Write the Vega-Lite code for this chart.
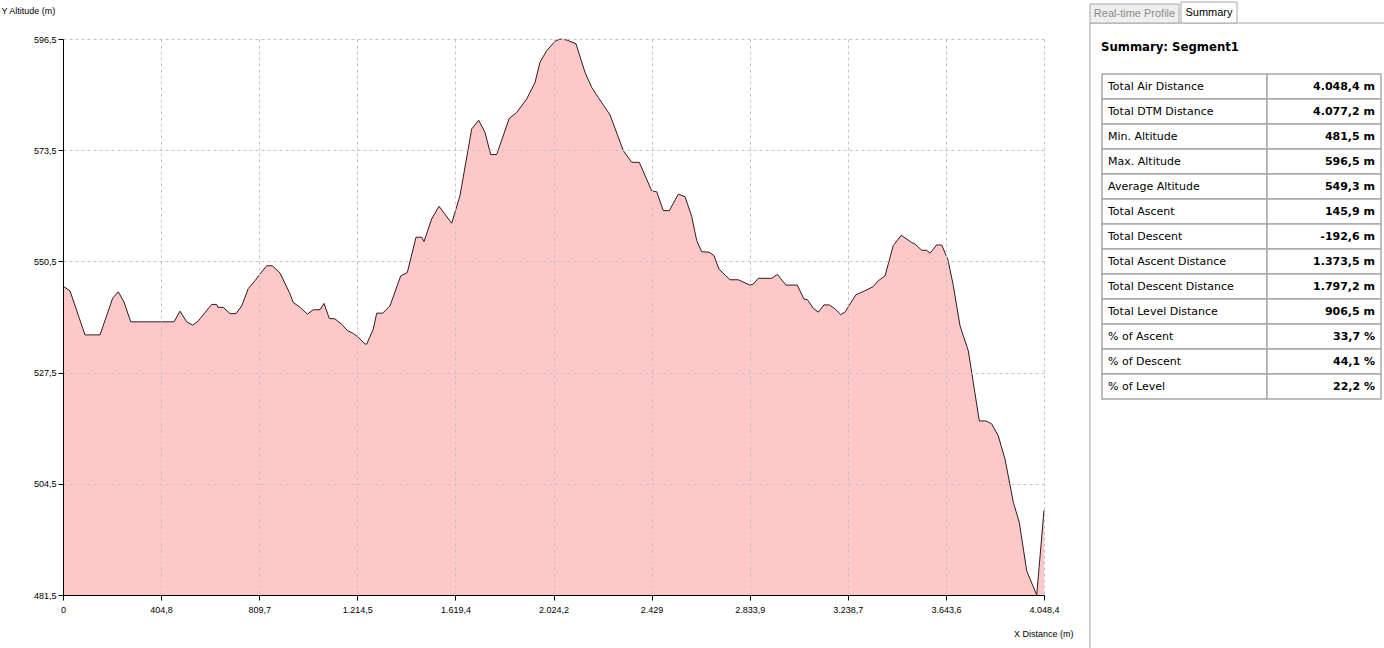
{
  "$schema": "https://vega.github.io/schema/vega-lite/v6.json",
  "background": "white",
  "padding": {"left": 1, "top": 1, "right": 0, "bottom": 0},
  "spacing": 16,
  "datasets": {
    "profile": [
      {"dist": 0, "alt": 545.4}, {"dist": 28.9, "alt": 544.4}, {"dist": 90.8, "alt": 535.3}, {"dist": 152.7, "alt": 535.3},
      {"dist": 205.1, "alt": 542.9}, {"dist": 228.2, "alt": 544.2}, {"dist": 251.7, "alt": 542.1}, {"dist": 279.4, "alt": 538.0},
      {"dist": 458.1, "alt": 538.0}, {"dist": 482.8, "alt": 540.2}, {"dist": 510.5, "alt": 538.0}, {"dist": 535.2, "alt": 537.3},
      {"dist": 558.4, "alt": 538.2}, {"dist": 613.7, "alt": 541.6}, {"dist": 634.3, "alt": 541.6}, {"dist": 639.7, "alt": 541.0},
      {"dist": 661.5, "alt": 541.0}, {"dist": 689.2, "alt": 539.7}, {"dist": 713.9, "alt": 539.7}, {"dist": 737.5, "alt": 541.3},
      {"dist": 764.7, "alt": 544.9}, {"dist": 792.3, "alt": 546.5}, {"dist": 813.0, "alt": 547.9}, {"dist": 840.6, "alt": 549.6},
      {"dist": 863.7, "alt": 549.6}, {"dist": 895.5, "alt": 548.1}, {"dist": 936.8, "alt": 543.8}, {"dist": 950.4, "alt": 542.0},
      {"dist": 978.1, "alt": 541.0}, {"dist": 1008.2, "alt": 539.6}, {"dist": 1032.9, "alt": 540.5}, {"dist": 1060.6, "alt": 540.5},
      {"dist": 1077.1, "alt": 541.8}, {"dist": 1099.0, "alt": 538.7}, {"dist": 1122.5, "alt": 538.6}, {"dist": 1150.1, "alt": 537.5},
      {"dist": 1173.3, "alt": 536.2}, {"dist": 1198.0, "alt": 535.6}, {"dist": 1218.7, "alt": 534.8}, {"dist": 1246.3, "alt": 533.4},
      {"dist": 1253.3, "alt": 533.4}, {"dist": 1280.5, "alt": 536.5}, {"dist": 1294.6, "alt": 539.8}, {"dist": 1319.3, "alt": 539.8},
      {"dist": 1349.5, "alt": 541.3}, {"dist": 1393.6, "alt": 547.5}, {"dist": 1420.9, "alt": 548.2}, {"dist": 1456.8, "alt": 555.5},
      {"dist": 1480.3, "alt": 555.5}, {"dist": 1489.8, "alt": 554.6}, {"dist": 1521.6, "alt": 559.3}, {"dist": 1551.7, "alt": 561.9},
      {"dist": 1604.1, "alt": 558.4}, {"dist": 1638.3, "alt": 564.1}, {"dist": 1686.6, "alt": 577.9}, {"dist": 1715.5, "alt": 579.7},
      {"dist": 1741.5, "alt": 577.2}, {"dist": 1765.0, "alt": 572.6}, {"dist": 1789.8, "alt": 572.6}, {"dist": 1841.8, "alt": 580.1},
      {"dist": 1872.3, "alt": 581.3}, {"dist": 1913.6, "alt": 584.1}, {"dist": 1947.9, "alt": 587.5}, {"dist": 1968.5, "alt": 591.7},
      {"dist": 1996.1, "alt": 594.1}, {"dist": 2030.4, "alt": 596.0}, {"dist": 2051.0, "alt": 596.5}, {"dist": 2078.7, "alt": 596.3},
      {"dist": 2117.1, "alt": 595.5}, {"dist": 2154.2, "alt": 589.6}, {"dist": 2181.8, "alt": 586.5}, {"dist": 2209.1, "alt": 584.4},
      {"dist": 2257.4, "alt": 580.8}, {"dist": 2312.3, "alt": 573.4}, {"dist": 2346.9, "alt": 571.0}, {"dist": 2378.3, "alt": 571.0},
      {"dist": 2429.4, "alt": 565.1}, {"dist": 2450.1, "alt": 564.9}, {"dist": 2477.3, "alt": 561.0}, {"dist": 2502.1, "alt": 561.0},
      {"dist": 2539.2, "alt": 564.4}, {"dist": 2566.9, "alt": 563.9}, {"dist": 2594.5, "alt": 559.8}, {"dist": 2615.2, "alt": 554.8},
      {"dist": 2635.8, "alt": 552.5}, {"dist": 2665.9, "alt": 552.4}, {"dist": 2686.5, "alt": 551.7}, {"dist": 2707.2, "alt": 548.9},
      {"dist": 2752.6, "alt": 546.7}, {"dist": 2786.8, "alt": 546.7}, {"dist": 2835.1, "alt": 545.6}, {"dist": 2848.7, "alt": 545.8},
      {"dist": 2869.4, "alt": 547.0}, {"dist": 2924.7, "alt": 547.0}, {"dist": 2947.8, "alt": 547.8}, {"dist": 2983.7, "alt": 545.6},
      {"dist": 3030.3, "alt": 545.6}, {"dist": 3057.9, "alt": 542.7}, {"dist": 3071.6, "alt": 542.6}, {"dist": 3096.3, "alt": 540.8},
      {"dist": 3117.0, "alt": 540.0}, {"dist": 3140.5, "alt": 541.5}, {"dist": 3162.3, "alt": 541.5}, {"dist": 3185.9, "alt": 540.7},
      {"dist": 3209.4, "alt": 539.5}, {"dist": 3227.2, "alt": 540.0}, {"dist": 3247.8, "alt": 541.7}, {"dist": 3272.6, "alt": 543.6},
      {"dist": 3316.7, "alt": 544.6}, {"dist": 3344.0, "alt": 545.3}, {"dist": 3364.6, "alt": 546.5}, {"dist": 3392.2, "alt": 547.5},
      {"dist": 3405.9, "alt": 550.0}, {"dist": 3426.5, "alt": 553.8}, {"dist": 3459.5, "alt": 555.9}, {"dist": 3502.4, "alt": 554.4},
      {"dist": 3516.0, "alt": 554.1}, {"dist": 3543.7, "alt": 552.8}, {"dist": 3564.3, "alt": 552.8}, {"dist": 3578.0, "alt": 552.2},
      {"dist": 3605.6, "alt": 553.9}, {"dist": 3626.2, "alt": 553.9}, {"dist": 3652.2, "alt": 550.8}, {"dist": 3674.1, "alt": 545.5},
      {"dist": 3701.8, "alt": 537.2}, {"dist": 3736.0, "alt": 532.0}, {"dist": 3781.4, "alt": 517.5}, {"dist": 3809.0, "alt": 517.5},
      {"dist": 3832.5, "alt": 516.9}, {"dist": 3859.8, "alt": 514.4}, {"dist": 3887.5, "alt": 509.6}, {"dist": 3921.7, "alt": 500.7},
      {"dist": 3946.5, "alt": 496.5}, {"dist": 3977.0, "alt": 486.5}, {"dist": 4018.3, "alt": 481.5}, {"dist": 4048.4, "alt": 499.0}
    ],
    "summary": [
      {"metric": "Total Air Distance", "value": "4.048,4 m"},
      {"metric": "Total DTM Distance", "value": "4.077,2 m"},
      {"metric": "Min. Altitude", "value": "481,5 m"},
      {"metric": "Max. Altitude", "value": "596,5 m"},
      {"metric": "Average Altitude", "value": "549,3 m"},
      {"metric": "Total Ascent", "value": "145,9 m"},
      {"metric": "Total Descent", "value": "-192,6 m"},
      {"metric": "Total Ascent Distance", "value": "1.373,5 m"},
      {"metric": "Total Descent Distance", "value": "1.797,2 m"},
      {"metric": "Total Level Distance", "value": "906,5 m"},
      {"metric": "% of Ascent", "value": "33,7 %"},
      {"metric": "% of Descent", "value": "44,1 %"},
      {"metric": "% of Level", "value": "22,2 %"}
    ],
    "tabs": [
      {"tab": "Real-time Profile", "state": "inactive"},
      {"tab": "Summary", "state": "active"}
    ],
    "panel": [
      {"pane": "Summary", "heading": "Summary: Segment1"}
    ]
  },
  "hconcat": [
    {
      "width": 981,
      "height": 556,
      "data": {"name": "profile"},
      "mark": {
        "type": "area",
        "color": "#ffc8c8",
        "fill": "#ffc8c8",
        "opacity": 1,
        "fillOpacity": 1,
        "interpolate": "linear",
        "line": {"color": "#2e1c1c", "strokeWidth": 1, "opacity": 1}
      },
      "encoding": {
        "x": {
          "field": "dist",
          "type": "quantitative",
          "scale": {"domain": [0, 4048.4], "nice": false, "zero": false},
          "axis": {
            "values": [0, 404.84, 809.68, 1214.52, 1619.36, 2024.2, 2429.04, 2833.88, 3238.72, 3643.56, 4048.4],
            "format": ",.1~f",
            "title": "X Distance (m)",
            "titleX": 1010,
            "titleY": 38,
            "titleAlign": "right",
            "titleBaseline": "middle",
            "labelFlush": false,
            "labelOverlap": false,
            "labelPadding": 5,
            "zindex": 1
          }
        },
        "y": {
          "field": "alt",
          "type": "quantitative",
          "scale": {"domain": [481.5, 596.5], "nice": false, "zero": false},
          "axis": {
            "values": [481.5, 504.5, 527.5, 550.5, 573.5, 596.5],
            "format": ",.1f",
            "title": "Y Altitude (m)",
            "titleAngle": 0,
            "titleX": -62,
            "titleY": -29,
            "titleAlign": "left",
            "titleBaseline": "middle",
            "labelPadding": 2,
            "labelOverlap": false,
            "labelFlush": false,
            "zindex": 1
          }
        },
        "y2": {"datum": 481.5}
      }
    },
    {
      "width": 297,
      "height": 556,
      "view": {"stroke": null},
      "resolve": {"scale": {"x": "independent", "y": "independent"}},
      "layer": [
        {
          "data": {"name": "panel"},
          "mark": {"type": "rect", "fill": "white", "stroke": "#a0a0a0", "strokeWidth": 1},
          "encoding": {
            "x": {"field": "pane", "type": "nominal", "axis": null, "scale": {"range": [0, 300], "paddingInner": 0, "paddingOuter": 0}},
            "y": {"field": "pane", "type": "nominal", "axis": null, "scale": {"range": [-16, 614], "paddingInner": 0, "paddingOuter": 0}}
          }
        },
        {
          "data": {"name": "tabs"},
          "transform": [{"filter": "datum.state == 'inactive'"}],
          "mark": {"type": "rect", "fill": "#efefef", "stroke": "#a8a8a8", "strokeWidth": 1},
          "encoding": {
            "x": {"field": "tab", "type": "nominal", "axis": null, "scale": {"range": [0, 89], "paddingInner": 0, "paddingOuter": 0}},
            "y": {"field": "tab", "type": "nominal", "axis": null, "scale": {"range": [-35, -16], "paddingInner": 0, "paddingOuter": 0}}
          }
        },
        {
          "data": {"name": "tabs"},
          "transform": [{"filter": "datum.state == 'inactive'"}],
          "mark": {"type": "text", "font": "Liberation Sans", "fontSize": 11, "color": "#8c8c8c", "baseline": "middle"},
          "encoding": {
            "x": {"field": "tab", "type": "nominal", "axis": null, "scale": {"range": [0, 89], "paddingInner": 0, "paddingOuter": 0}},
            "y": {"field": "tab", "type": "nominal", "axis": null, "scale": {"range": [-35, -16], "paddingInner": 0, "paddingOuter": 0}},
            "text": {"field": "tab"}
          }
        },
        {
          "data": {"name": "tabs"},
          "transform": [{"filter": "datum.state == 'active'"}],
          "mark": {"type": "rect", "fill": "white", "stroke": "#a8a8a8", "strokeWidth": 1},
          "encoding": {
            "x": {"field": "tab", "type": "nominal", "axis": null, "scale": {"range": [91, 147], "paddingInner": 0, "paddingOuter": 0}},
            "y": {"field": "tab", "type": "nominal", "axis": null, "scale": {"range": [-37, -16], "paddingInner": 0, "paddingOuter": 0}}
          }
        },
        {
          "data": {"name": "tabs"},
          "transform": [{"filter": "datum.state == 'active'"}],
          "mark": {"type": "text", "font": "Liberation Sans", "fontSize": 11, "color": "#000000", "baseline": "middle"},
          "encoding": {
            "x": {"field": "tab", "type": "nominal", "axis": null, "scale": {"range": [91, 147], "paddingInner": 0, "paddingOuter": 0}},
            "y": {"field": "tab", "type": "nominal", "axis": null, "scale": {"range": [-36, -16], "paddingInner": 0, "paddingOuter": 0}},
            "text": {"field": "tab"}
          }
        },
        {
          "data": {"name": "panel"},
          "mark": {"type": "text", "font": "DejaVu Sans", "fontSize": 11.7, "fontWeight": "bold", "color": "#000000", "align": "left", "baseline": "middle"},
          "encoding": {
            "x": {"field": "heading", "type": "nominal", "axis": null, "scale": {"type": "point", "range": [11, 250], "padding": 0, "align": 0}},
            "y": {"field": "heading", "type": "nominal", "axis": null, "scale": {"range": [-1, 17], "paddingInner": 0, "paddingOuter": 0}},
            "text": {"field": "heading"}
          }
        },
        {
          "data": {"name": "summary"},
          "mark": {"type": "rect", "fill": "white", "stroke": "#a9a9a9", "strokeWidth": 1.5},
          "encoding": {
            "x": {"datum": "label", "type": "nominal", "axis": null, "scale": {"domain": ["label"], "range": [12, 177], "paddingInner": 0, "paddingOuter": 0}},
            "y": {"field": "metric", "type": "nominal", "sort": null, "axis": null, "scale": {"range": [35, 360], "paddingInner": 0, "paddingOuter": 0}}
          }
        },
        {
          "data": {"name": "summary"},
          "mark": {"type": "rect", "fill": "white", "stroke": "#a9a9a9", "strokeWidth": 1.5},
          "encoding": {
            "x": {"datum": "value", "type": "nominal", "axis": null, "scale": {"domain": ["value"], "range": [177, 291], "paddingInner": 0, "paddingOuter": 0}},
            "y": {"field": "metric", "type": "nominal", "sort": null, "axis": null, "scale": {"range": [35, 360], "paddingInner": 0, "paddingOuter": 0}}
          }
        },
        {
          "data": {"name": "summary"},
          "mark": {"type": "text", "font": "DejaVu Sans", "fontSize": 11, "color": "#000000", "align": "left", "baseline": "middle", "dx": 6},
          "encoding": {
            "x": {"datum": "label", "type": "nominal", "axis": null, "scale": {"type": "point", "domain": ["label"], "range": [12, 177], "padding": 0, "align": 0}},
            "y": {"field": "metric", "type": "nominal", "sort": null, "axis": null, "scale": {"range": [35, 360], "paddingInner": 0, "paddingOuter": 0}},
            "text": {"field": "metric"}
          }
        },
        {
          "data": {"name": "summary"},
          "mark": {"type": "text", "font": "DejaVu Sans", "fontSize": 11, "fontWeight": "bold", "color": "#000000", "align": "right", "baseline": "middle", "dx": -6},
          "encoding": {
            "x": {"datum": "value", "type": "nominal", "axis": null, "scale": {"type": "point", "domain": ["value"], "range": [177, 291], "padding": 0, "align": 1}},
            "y": {"field": "metric", "type": "nominal", "sort": null, "axis": null, "scale": {"range": [35, 360], "paddingInner": 0, "paddingOuter": 0}},
            "text": {"field": "value"}
          }
        }
      ]
    }
  ],
  "config": {
    "view": {"stroke": null},
    "font": "Liberation Sans",
    "locale": {"number": {"decimal": ",", "thousands": ".", "grouping": [3], "currency": ["", " €"]}},
    "axis": {
      "labelFont": "Liberation Sans",
      "labelFontSize": 9,
      "labelColor": "#000000",
      "titleFont": "Liberation Sans",
      "titleFontSize": 9,
      "titleFontWeight": "normal",
      "titleColor": "#000000",
      "domainColor": "#000000",
      "domainWidth": 1,
      "tickColor": "#000000",
      "tickSize": 5,
      "tickWidth": 1,
      "grid": true,
      "gridColor": "#c4c4c4",
      "gridDash": [3, 3],
      "gridWidth": 1
    }
  }
}
